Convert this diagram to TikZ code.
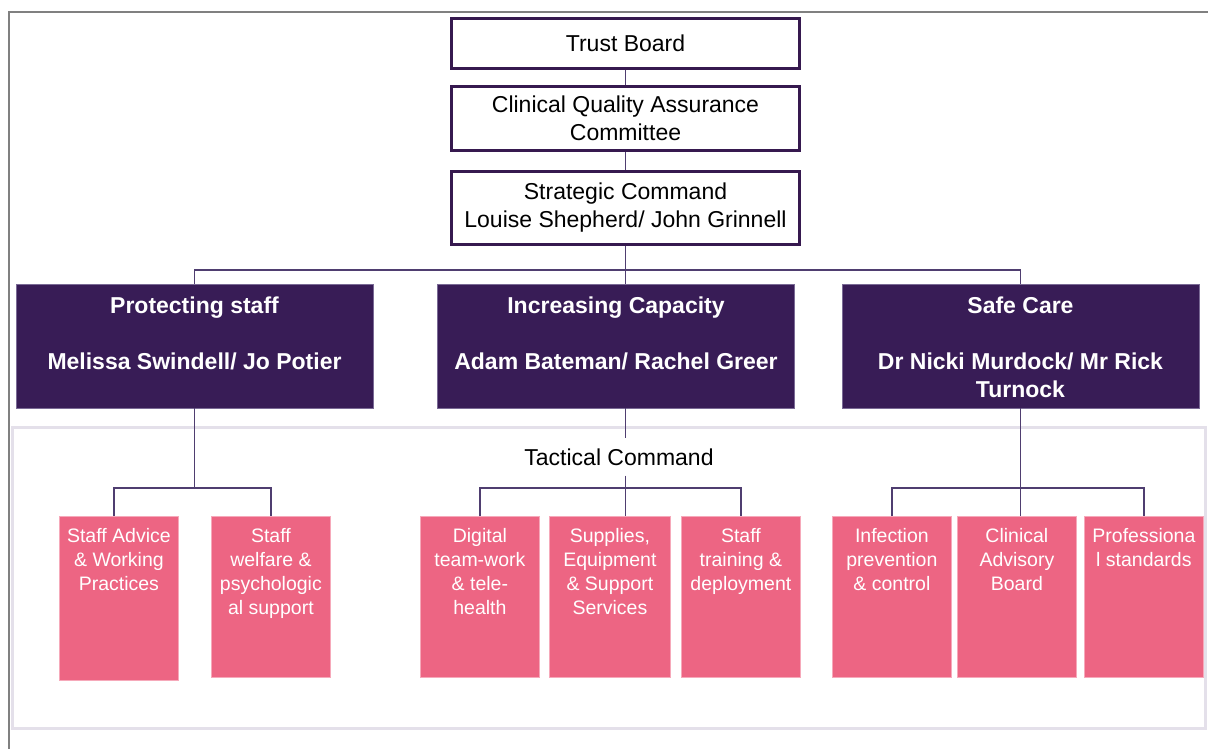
\documentclass[tikz,border=0pt]{standalone}
\usepackage{fontspec}
\setmainfont{Liberation Sans}
\usetikzlibrary{positioning}

\definecolor{framec}{HTML}{808080}
\definecolor{panelc}{HTML}{E4E0EA}
\definecolor{boxedge}{HTML}{36194F}
\definecolor{leadfill}{HTML}{381C56}
\definecolor{leadedge}{HTML}{7A6A95}
\definecolor{workfill}{HTML}{ED6583}
\definecolor{workedge}{HTML}{F6A9BA}
\definecolor{linkc}{HTML}{4F3E70}

\tikzset{
  topbox/.style={draw=boxedge, line width=3pt, fill=white, minimum width=348pt,
    align=center, font=\fontsize{23}{28}\selectfont},
  leadbox/.style={fill=leadfill, draw=leadedge, line width=0.6pt,
    minimum width=357pt, minimum height=124pt},
  leadtext/.style={text=white, align=center, inner sep=0pt,
    font=\bfseries\fontsize{23}{28}\selectfont},
  workbox/.style={fill=workfill, draw=workedge, line width=0.8pt,
    minimum width=119pt, minimum height=161pt, anchor=north west},
  worktext/.style={text=white, align=center, inner sep=0pt,
    font=\fontsize{19.5}{24}\selectfont},
  link/.style={draw=linkc, line width=1.2pt},
}

\begin{document}
\begin{tikzpicture}[x=1pt, y=-1pt]
\useasboundingbox (0,0) rectangle (1208,749);
\fill[white] (0,0) rectangle (1208,749);
% page frame, left and top edges only
\draw[framec, line width=1.5pt] (9,749) -- (9,12) -- (1208,12);
% tactical panel
\draw[panelc, line width=3pt] (12.5,427.5) rectangle (1205.5,728.5);

% governance chain
\node[topbox, minimum height=50pt] (tb) at (625.5,43.5) {Trust Board};
\node[topbox, minimum height=64pt] (cq) at (625.5,118.5) {Clinical Quality Assurance\\Committee};
\node[topbox, minimum height=73pt] (sc) at (625.5,208) {Strategic Command\\Louise Shepherd/ John Grinnell};

% workstream leads
\node[leadbox] (ps) at (194.5,346) {};
\node[leadbox] (ic) at (616,346) {};
\node[leadbox] (sf) at (1020.5,346) {};
\node[leadtext, below=13pt of ps.north] (ps-t) {Protecting staff\\[28pt]Melissa Swindell/ Jo Potier};
\node[leadtext, below=13pt of ic.north] (ic-t) {Increasing Capacity\\[28pt]Adam Bateman/ Rachel Greer};
\node[leadtext, below=13pt of sf.north] (sf-t) {Safe Care\\[28pt]Dr Nicki Murdock/ Mr Rick\\Turnock};

\node[font=\fontsize{23}{28}\selectfont, inner ysep=10pt] (tc) at (619,457) {Tactical Command};

% tactical cells
\node[workbox, minimum height=164pt] (sa) at (59,516) {};
\node[workbox] (sw) at (211,516) {};
\node[workbox] (dt) at (420,516) {};
\node[workbox, minimum width=121pt] (su) at (549,516) {};
\node[workbox] (st) at (681,516) {};
\node[workbox] (ip) at (832,516) {};
\node[workbox] (ca) at (957,516) {};
\node[workbox] (pr) at (1084,516) {};
\node[worktext, below=12pt of sa.north] (sa-t) {Staff Advice\\\& Working\\Practices};
\node[worktext, below=12pt of sw.north] (sw-t) {Staff\\welfare \&\\psychologic\\al support};
\node[worktext, below=12pt of dt.north] (dt-t) {Digital\\team-work\\\& tele-\\health};
\node[worktext, below=12pt of su.north] (su-t) {Supplies,\\Equipment\\\& Support\\Services};
\node[worktext, below=12pt of st.north] (st-t) {Staff\\training \&\\deployment};
\node[worktext, below=12pt of ip.north] (ip-t) {Infection\\prevention\\\& control};
\node[worktext, below=12pt of ca.north] (ca-t) {Clinical\\Advisory\\Board};
\node[worktext, below=12pt of pr.north] (pr-t) {Professiona\\l standards};

% connectors
\draw[link] (tb) -- (cq);
\draw[link] (cq) -- (sc);
\draw[link] (sc.south) -- (sc.south |- ic.north);
\draw[link] (ps.north) |- (sc.south |- 0,270) -| (sf.north);

\draw[link] (ps.south) -- (ps.south |- 0,488);
\draw[link] ([xshift=-5pt]sa.north) -- ++(0,-28) -| (sw.north);

\draw[link] (sc.south |- ic.south) -- (sc.south |- tc.north);
\draw[link] (sc.south |- tc.south) -- (sc.south |- su.north);
\draw[link] (dt.north) -- ++(0,-28) -| (st.north);

\draw[link] (sf.south) -- (sf.south |- ca.north);
\draw[link] (ip.north) -- ++(0,-28) -| (pr.north);
\end{tikzpicture}
\end{document}
